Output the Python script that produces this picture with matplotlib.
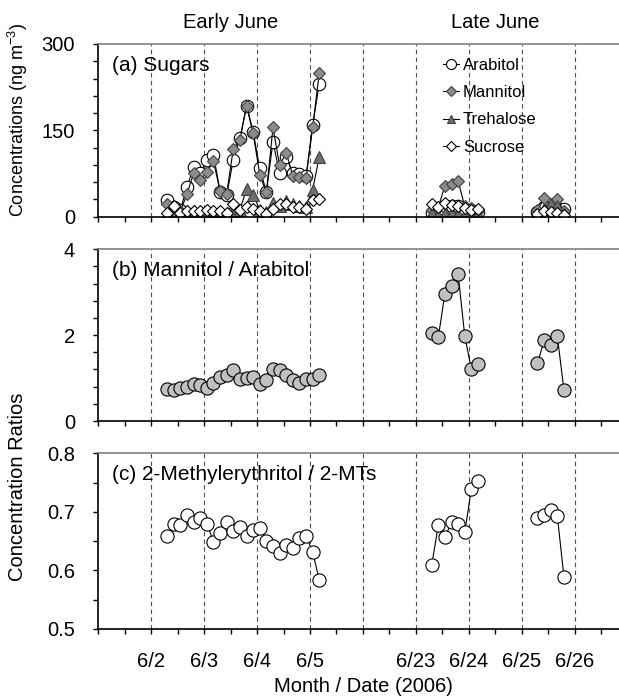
import numpy as np
import matplotlib.pyplot as plt

plt.rcParams['font.family'] = ['Liberation Sans', 'DejaVu Sans']
plt.rcParams['mathtext.default'] = 'regular'

# sample times in day units (1 = 6/2 ... 4 = 6/5, 6 = 6/23 ... 9 = 6/26)
t_early = [1.30, 1.425, 1.55, 1.675, 1.80, 1.925, 2.05, 2.175, 2.30, 2.425, 2.55, 2.675,
           2.80, 2.925, 3.05, 3.175, 3.30, 3.425, 3.55, 3.675, 3.80, 3.925, 4.05, 4.175]
t_late1 = [6.30, 6.425, 6.55, 6.675, 6.80, 6.925, 7.05, 7.175]
t_late2 = [8.30, 8.425, 8.55, 8.675, 8.80]

date_ticks = [1, 2, 3, 4, 5, 6, 7, 8, 9]
date_labels = ["6/2", "6/3", "6/4", "6/5", "", "6/23", "6/24", "6/25", "6/26"]

# (a) sugars, ng m-3
arabitol_e = [29, 16, 12, 52, 86, 76, 98, 108, 43, 37, 99, 136, 193, 147, 84, 43, 130, 75, 104, 75, 74, 70, 159, 231]
arabitol_l1 = [6, 8, 18, 18, 18, 9, 12, 8]
arabitol_l2 = [8, 17, 12, 15, 14]
mannitol_e = [22, 12, 9, 40, 75, 63, 78, 96, 45, 40, 118, 133, 193, 145, 73, 42, 155, 89, 111, 71, 69, 68, 155, 250]
mannitol_l1 = [12, 16, 54, 57, 62, 18, 15, 10]
mannitol_l2 = [11, 32, 21, 30, 10]
trehalose_e = [4, 2, 1, 3, 5, 6, 7, 6, 5, 7, 10, 12, 48, 38, 12, 8, 24, 18, 28, 22, 18, 17, 47, 104]
trehalose_l1 = [6, 3, 4, 6, 5, 3, 2, 5]
trehalose_l2 = [4, 14, 22, 18, 5]
sucrose_e = [7, 19, 7, 9, 9, 10, 11, 10, 9, 7, 22, 12, 16, 14, 9, 5, 14, 22, 22, 17, 16, 13, 29, 31]
sucrose_l1 = [22, 17, 23, 20, 18, 15, 12, 14]
sucrose_l2 = [5, 10, 8, 6, 3]

# (b) mannitol / arabitol
ratio_ma_e = [0.74, 0.72, 0.78, 0.79, 0.87, 0.83, 0.77, 0.89, 1.03, 1.08, 1.18, 0.97,
              1.01, 1.03, 0.87, 0.95, 1.21, 1.18, 1.08, 0.95, 0.89, 0.97, 0.97, 1.07]
ratio_ma_l1 = [2.04, 1.95, 2.97, 3.14, 3.42, 1.98, 1.21, 1.32]
ratio_ma_l2 = [1.34, 1.88, 1.78, 1.98, 0.72]

# (c) 2-methylerythritol / 2-MTs
ratio_me_e = [0.658, 0.679, 0.677, 0.694, 0.683, 0.690, 0.680, 0.649, 0.664, 0.683, 0.668, 0.674,
              0.658, 0.669, 0.673, 0.651, 0.641, 0.630, 0.644, 0.639, 0.656, 0.658, 0.632, 0.583]
ratio_me_l1 = [0.609, 0.677, 0.657, 0.682, 0.679, 0.665, 0.739, 0.753]
ratio_me_l2 = [0.689, 0.695, 0.703, 0.693, 0.589]


def joined(a, b, c):
    # nan between the campaigns so the lines break
    return np.concatenate([a, [np.nan], b, [np.nan], c])


t_all = joined(t_early, t_late1, t_late2)

fig = plt.figure(figsize=(6.19, 6.96), dpi=100)
ax_a = fig.add_axes([0.159, 0.6887, 0.8546, 0.2481])
ax_b = fig.add_axes([0.159, 0.3951, 0.8546, 0.2467])
ax_c = fig.add_axes([0.159, 0.0963, 0.8546, 0.2524])

FS = 14.5
for ax in (ax_a, ax_b, ax_c):
    ax.set_xlim(0, 10)
    ax.set_xticks(date_ticks)
    ax.set_xticks(np.arange(0, 10.01, 0.5), minor=True)
    ax.grid(axis='x', which='major', color='#505050', lw=0.8, ls=(0, (4, 3)))
    ax.tick_params(which='both', direction='out', length=3.8, width=1.0, labelsize=FS, pad=13,
                   top=False, right=False)
    ax.spines['right'].set_visible(False)
    ax.spines['top'].set_color('#808080')
    ax.spines['top'].set_linewidth(1.2)
    ax.spines['left'].set_linewidth(1.2)
    ax.spines['bottom'].set_linewidth(1.2)
    ax.set_axisbelow(True)

ax_a.set_xticklabels([])
ax_b.set_xticklabels([])
ax_c.set_xticklabels(date_labels)

lw = 0.8
ax_a.plot(t_all, joined(arabitol_e, arabitol_l1, arabitol_l2), '-o', color='k', lw=lw,
          mfc='white', mec='k', mew=0.8, ms=9, label='Arabitol')
ax_a.plot(t_all, joined(mannitol_e, mannitol_l1, mannitol_l2), '-D', color='k', lw=lw,
          mfc='#8c8c8c', mec='#404040', mew=0.8, ms=6.5, label='Mannitol')
ax_a.plot(t_all, joined(trehalose_e, trehalose_l1, trehalose_l2), '-^', color='k', lw=lw,
          mfc='#6e6e6e', mec='#404040', mew=0.8, ms=8, label='Trehalose')
ax_a.plot(t_all, joined(sucrose_e, sucrose_l1, sucrose_l2), '-D', color='k', lw=lw,
          mfc='white', mec='k', mew=0.8, ms=6.5, label='Sucrose')
ax_a.set_ylim(0, 300)
ax_a.set_yticks([0, 150, 300])
ax_a.set_yticks(np.arange(0, 301, 30), minor=True)
ax_a.text(0.26, 0.878, "(a) Sugars", transform=ax_a.get_xaxis_transform(), fontsize=15, va='center')
ax_a.legend(loc='upper left', bbox_to_anchor=(0.651, 0.92), frameon=False, fontsize=12,
            handlelength=1.0, handletextpad=0.2, labelspacing=0.74, borderaxespad=0, borderpad=0,
            markerscale=0.8)
ax_a.text(2.5, 1.127, "Early June", transform=ax_a.get_xaxis_transform(), fontsize=FS,
          ha='center', va='center')
ax_a.text(7.5, 1.127, "Late June", transform=ax_a.get_xaxis_transform(), fontsize=FS,
          ha='center', va='center')

ax_b.plot(t_all, joined(ratio_ma_e, ratio_ma_l1, ratio_ma_l2), '-o', color='k', lw=lw,
          mfc='#c0c0c0', mec='k', mew=0.8, ms=9.5)
ax_b.set_ylim(0, 4)
ax_b.set_yticks([0, 2, 4])
ax_b.set_yticks(np.arange(0, 4.01, 0.4), minor=True)
ax_b.text(0.26, 0.879, "(b) Mannitol / Arabitol", transform=ax_b.get_xaxis_transform(),
          fontsize=15, va='center')

ax_c.plot(t_all, joined(ratio_me_e, ratio_me_l1, ratio_me_l2), '-o', color='k', lw=lw,
          mfc='white', mec='k', mew=0.8, ms=9.5)
ax_c.set_ylim(0.5, 0.8)
ax_c.set_yticks([0.5, 0.6, 0.7, 0.8])
ax_c.set_yticklabels(["0.5", "0.6", "0.7", "0.8"])
ax_c.set_yticks(np.arange(0.5, 0.801, 0.05), minor=True)
ax_c.text(0.26, 0.877, "(c) 2-Methylerythritol / 2-MTs", transform=ax_c.get_xaxis_transform(),
          fontsize=15, va='center')

fig.text(0.5865, 0.013, "Month / Date (2006)", fontsize=FS, ha='center', va='center')
fig.text(0.029, 0.828, "Concentrations (ng m$^{-3}$)", fontsize=13, rotation=90,
         ha='center', va='center')
fig.text(0.029, 0.30, "Concentration Ratios", fontsize=FS, rotation=90, ha='center', va='center')

fig.savefig("out.png", dpi=100)
